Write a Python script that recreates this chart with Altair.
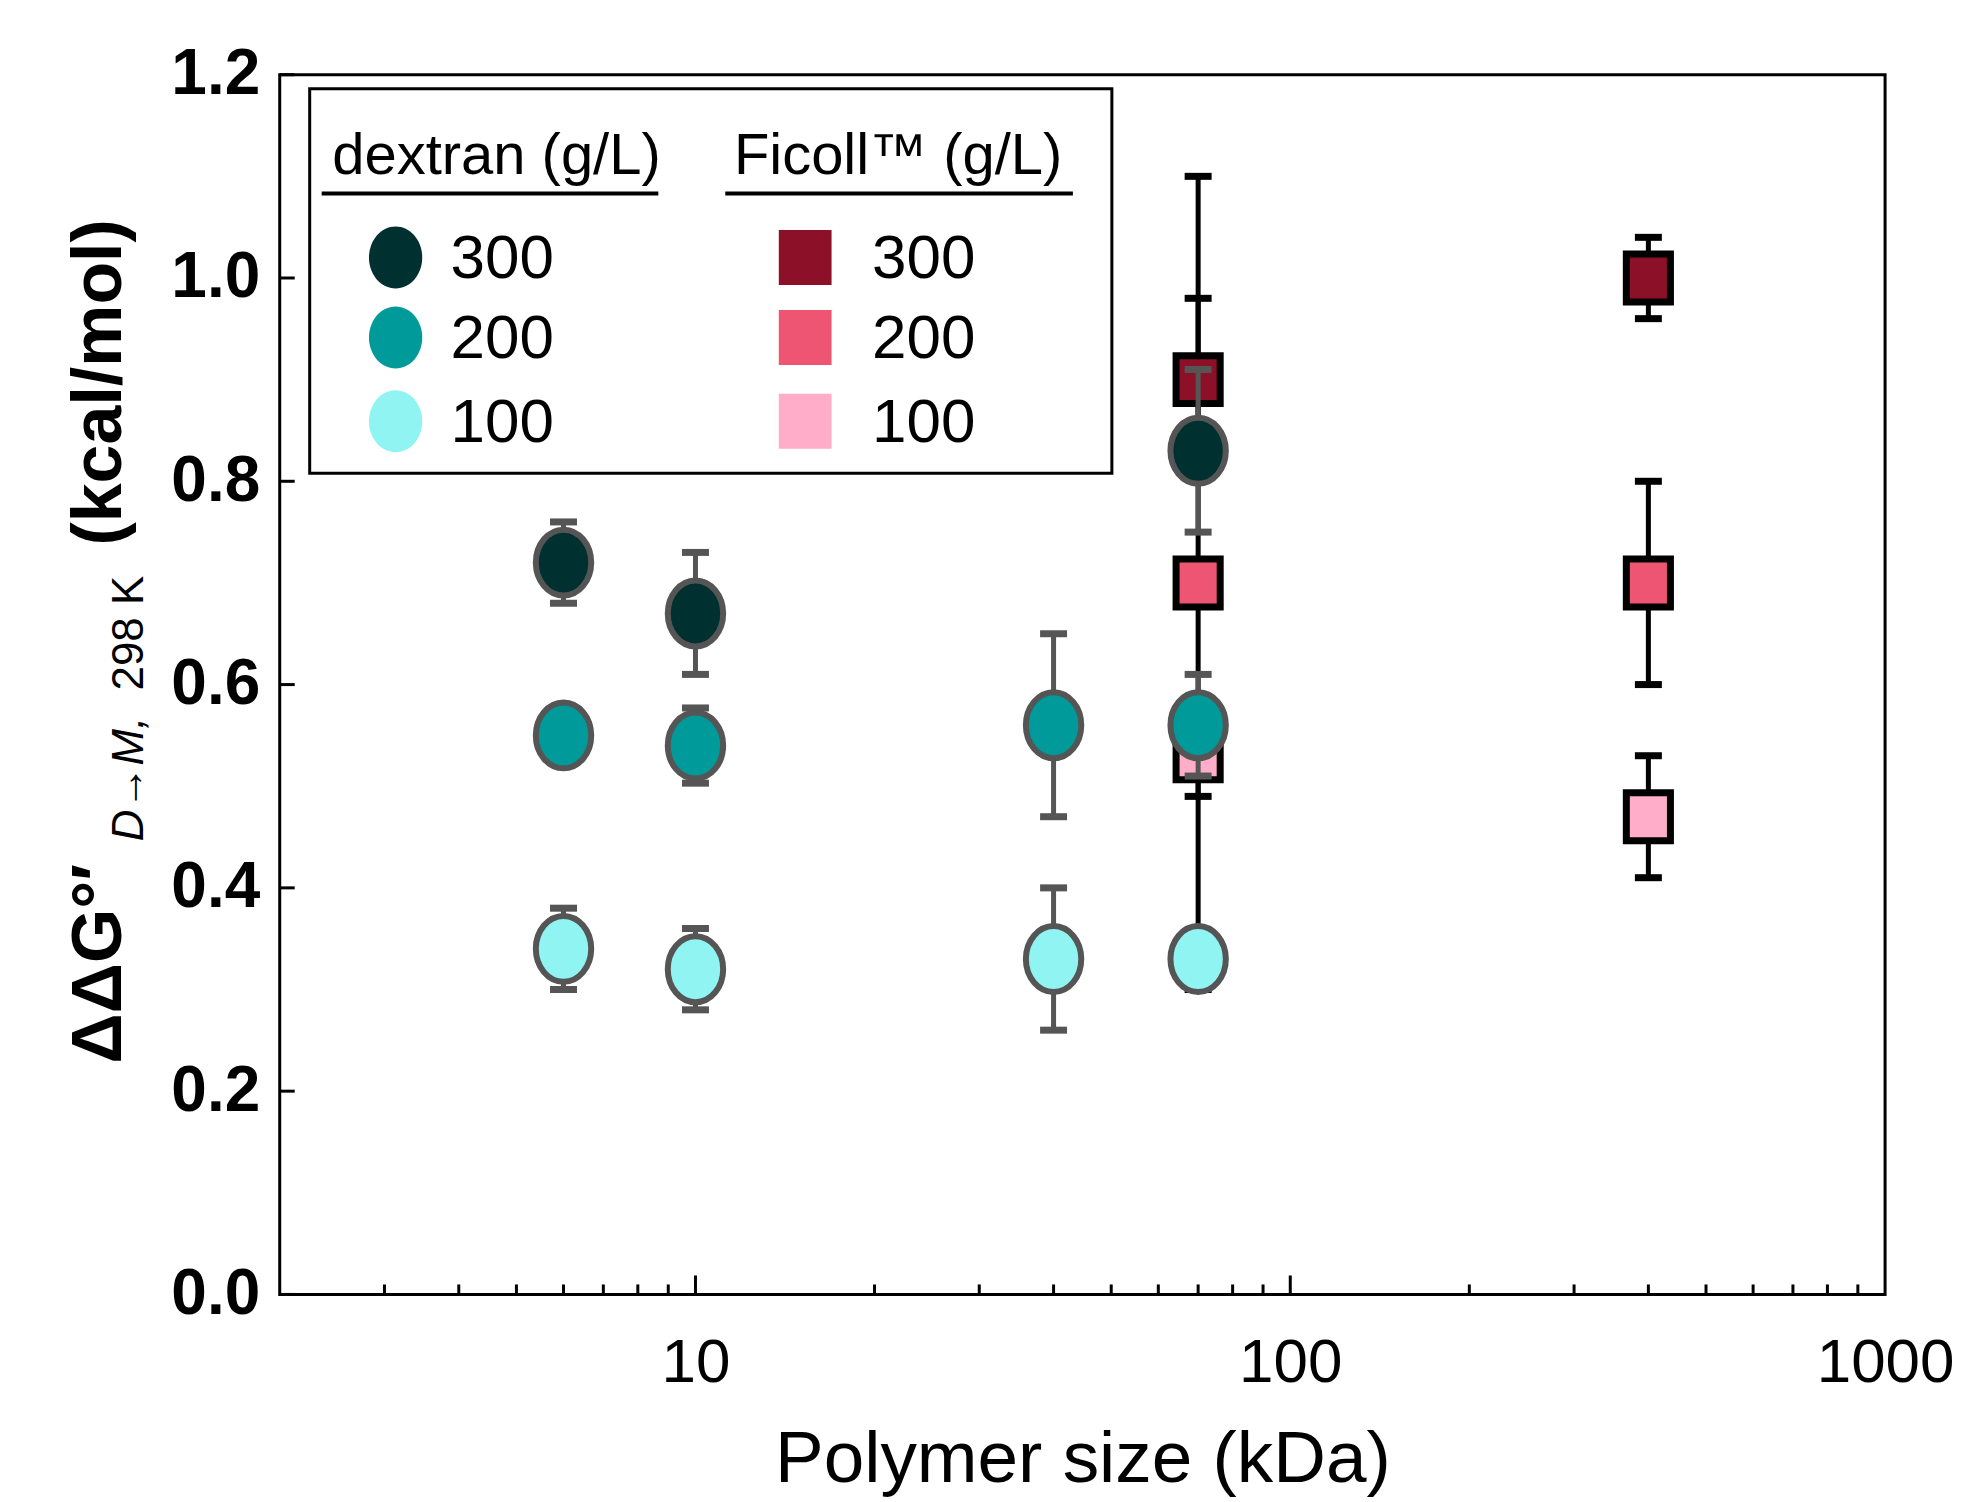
import altair as alt
import pandas as pd

# ---------------- data ----------------
dextran_size = [6, 10, 40, 70]
dextran_300 = [0.72, 0.67, None, 0.83]
dextran_300_err = [0.04, 0.06, None, 0.08]
dextran_200 = [0.55, 0.54, 0.56, 0.56]
dextran_200_err = [0.02, 0.037, 0.09, 0.05]
dextran_100 = [0.34, 0.32, 0.33, 0.33]
dextran_100_err = [0.04, 0.04, 0.07, 0.02]

ficoll_size = [70, 400]
ficoll_300 = [0.90, 1.00]
ficoll_300_err = [0.08, 0.04]
ficoll_200 = [0.70, 0.70]
ficoll_200_err = [0.40, 0.10]
ficoll_100 = [0.53, 0.47]
ficoll_100_err = [0.04, 0.06]

concentrations = ["300", "200", "100"]
x_label_values = [10, 100, 1000]
x_major_ticks = [10, 100]
x_minor_ticks = [3, 4, 5, 6, 7, 8, 9, 20, 30, 40, 50, 60, 70, 80, 90,
                 200, 300, 400, 500, 600, 700, 800, 900]
y_tick_values = [0.0, 0.2, 0.4, 0.6, 0.8, 1.0, 1.2]

dextran_colors = ["#00302F", "#009A9A", "#90F4F2"]
ficoll_colors = ["#8C1027", "#EE5572", "#FFADC8"]

# ---------------- styles / layout ----------------
W, H = 1607, 1221
SANS = "Liberation Sans, Arial, sans-serif"
GRAY = "#555555"
ELLIPSE = "M0,-1A0.84,1,0,1,1,0,1A0.84,1,0,1,1,0,-1Z"
SQUARE = "M-0.92,-1L0.92,-1L0.92,1L-0.92,1Z"
LEG_ELLIPSE = "M0,-1A0.86,1,0,1,1,0,1A0.86,1,0,1,1,0,-1Z"
LEG_SQUARE = "M-0.96,-1L0.96,-1L0.96,1L-0.96,1Z"


def build(polymer, sizes, series, errs):
    rows = []
    for conc, vals, es in zip(concentrations, series, errs):
        for s, v, e in zip(sizes, vals, es):
            if v is None:
                continue
            rows.append({"polymer": polymer, "key": f"{polymer} {conc}", "conc": conc,
                         "size": s, "value": v, "lo": v - e, "hi": v + e})
    return pd.DataFrame(rows)


dex = build("dextran", dextran_size, [dextran_300, dextran_200, dextran_100],
            [dextran_300_err, dextran_200_err, dextran_100_err])
fic = build("Ficoll", ficoll_size, [ficoll_300, ficoll_200, ficoll_100],
            [ficoll_300_err, ficoll_200_err, ficoll_100_err])

color_scale = alt.Scale(
    domain=[f"dextran {c}" for c in concentrations] + [f"Ficoll {c}" for c in concentrations],
    range=dextran_colors + ficoll_colors)

xscale = alt.Scale(type="log", domain=[2, 1000], nice=False)
yscale = alt.Scale(domain=[0, 1.2], nice=False, zero=False)

xaxis = alt.Axis(values=x_label_values, format="d", ticks=False, tickSize=0, domain=False,
                 grid=False, labelFont=SANS, labelFontSize=62, labelColor="black",
                 labelPadding=38, labelFlush=False, labelOverlap=False,
                 title="Polymer size (kDa)", titleFont=SANS, titleFontSize=73,
                 titleFontWeight="normal", titleColor="black", titleBaseline="alphabetic",
                 titleY=187)
yaxis = alt.Axis(values=y_tick_values, format=".1f", ticks=False, tickSize=0, domain=False,
                 grid=False, labelFont=SANS, labelFontWeight="bold", labelFontSize=64,
                 labelColor="black", labelPadding=20, labelOverlap=False, title=None)


def X(field):
    return alt.X(field, type="quantitative", scale=xscale, axis=xaxis)


def Y(field):
    return alt.Y(field, type="quantitative", scale=yscale, axis=yaxis)


layers = []

# legend box
one = pd.DataFrame({"t": [""]})
layers.append(alt.Chart(one).mark_rect(fill="white", stroke="black", strokeWidth=3).encode(
    x=alt.value(30), x2=alt.value(833), y=alt.value(14), y2=alt.value(399)))

# Ficoll error bars + squares
layers.append(alt.Chart(fic).mark_rule(color="black", strokeWidth=5).encode(
    x=X("size"), y=Y("lo"), y2=alt.Y2("hi")))
layers.append(alt.Chart(fic).transform_fold(["lo", "hi"], as_=["end", "ev"]).mark_tick(
    orient="horizontal", size=27, thickness=7, color="black", opacity=1).encode(
    x=X("size"), y=Y("ev")))
layers.append(alt.Chart(fic).mark_point(shape=SQUARE, size=48 * 48, filled=True, stroke="black",
                                        strokeWidth=7, opacity=1, fillOpacity=1, strokeOpacity=1).encode(
    x=X("size"), y=Y("value"), fill=alt.Fill("key:N", scale=color_scale, legend=None)))

# dextran error bars + circles
layers.append(alt.Chart(dex).mark_rule(color=GRAY, strokeWidth=5).encode(
    x=X("size"), y=Y("lo"), y2=alt.Y2("hi")))
layers.append(alt.Chart(dex).transform_fold(["lo", "hi"], as_=["end", "ev"]).mark_tick(
    orient="horizontal", size=27, thickness=7, color=GRAY, opacity=1).encode(
    x=X("size"), y=Y("ev")))
layers.append(alt.Chart(dex).mark_point(shape=ELLIPSE, size=66 * 66, filled=True, stroke=GRAY,
                                        strokeWidth=6, opacity=1, fillOpacity=1, strokeOpacity=1).encode(
    x=X("size"), y=Y("value"), fill=alt.Fill("key:N", scale=color_scale, legend=None)))

# inward ticks
major_df = pd.DataFrame({"size": x_major_ticks})
minor_df = pd.DataFrame({"size": x_minor_ticks})
ytick_df = pd.DataFrame({"value": y_tick_values})
layers.append(alt.Chart(major_df).mark_rule(color="black", strokeWidth=3).encode(
    x=X("size"), y=alt.value(H), y2=alt.value(H - 19)))
layers.append(alt.Chart(minor_df).mark_rule(color="black", strokeWidth=3).encode(
    x=X("size"), y=alt.value(H), y2=alt.value(H - 10)))
layers.append(alt.Chart(ytick_df).mark_rule(color="black", strokeWidth=3).encode(
    y=Y("value"), x=alt.value(0), x2=alt.value(15)))

# legend contents
for txt, cx, ux1, ux2 in [("dextran (g/L)", 217, 42, 379), ("Ficoll\u2122 (g/L)", 619, 446, 794)]:
    layers.append(alt.Chart(pd.DataFrame({"t": [txt]})).mark_text(
        font=SANS, fontSize=58, color="black", align="center", baseline="alphabetic").encode(
        text="t:N", x=alt.value(cx), y=alt.value(99)))
    layers.append(alt.Chart(one).mark_rule(color="black", strokeWidth=4).encode(
        x=alt.value(ux1), x2=alt.value(ux2), y=alt.value(119)))

row_y = [183, 263, 347]
for conc, ry, dc, fc in zip(concentrations, row_y, dextran_colors, ficoll_colors):
    layers.append(alt.Chart(one).mark_point(shape=LEG_ELLIPSE, size=62 * 62, filled=True, fill=dc,
                                            opacity=1, strokeWidth=0).encode(
        x=alt.value(116), y=alt.value(ry)))
    layers.append(alt.Chart(one).mark_point(shape=LEG_SQUARE, size=55 * 55, filled=True, fill=fc,
                                            opacity=1, strokeWidth=0).encode(
        x=alt.value(526), y=alt.value(ry)))
    for lx in (171, 593):
        layers.append(alt.Chart(pd.DataFrame({"t": [conc]})).mark_text(
            font=SANS, fontSize=62, color="black", align="left", baseline="middle").encode(
            text="t:N", x=alt.value(lx), y=alt.value(ry + 2)))

# y-axis title pieces (rotated)
ytitle = [("\u0394\u0394G\u00b0\u2032", -180, 890, 70, "bold", "normal"),
          ("D\u2192M,", -150, 705, 44, "normal", "italic"),
          ("298 K", -150, 559, 44, "normal", "normal"),
          ("(kcal/mol)", -180, 308, 70, "bold", "normal")]
for txt, tx, ty, fs, fw, fst in ytitle:
    layers.append(alt.Chart(pd.DataFrame({"t": [txt]})).mark_text(
        font=SANS, fontSize=fs, fontWeight=fw, fontStyle=fst, color="black", angle=270,
        align="center", baseline="middle").encode(
        text="t:N", x=alt.value(tx), y=alt.value(ty)))

chart = alt.layer(*layers).properties(
    width=W, height=H,
    padding={"left": 272, "top": 66, "right": 70, "bottom": 207},
    autosize=alt.AutoSizeParams(type="none"),
    background="white",
).configure_view(stroke="black", strokeWidth=3)

chart.save("out.html", embed_options={"renderer": "svg", "actions": False})
